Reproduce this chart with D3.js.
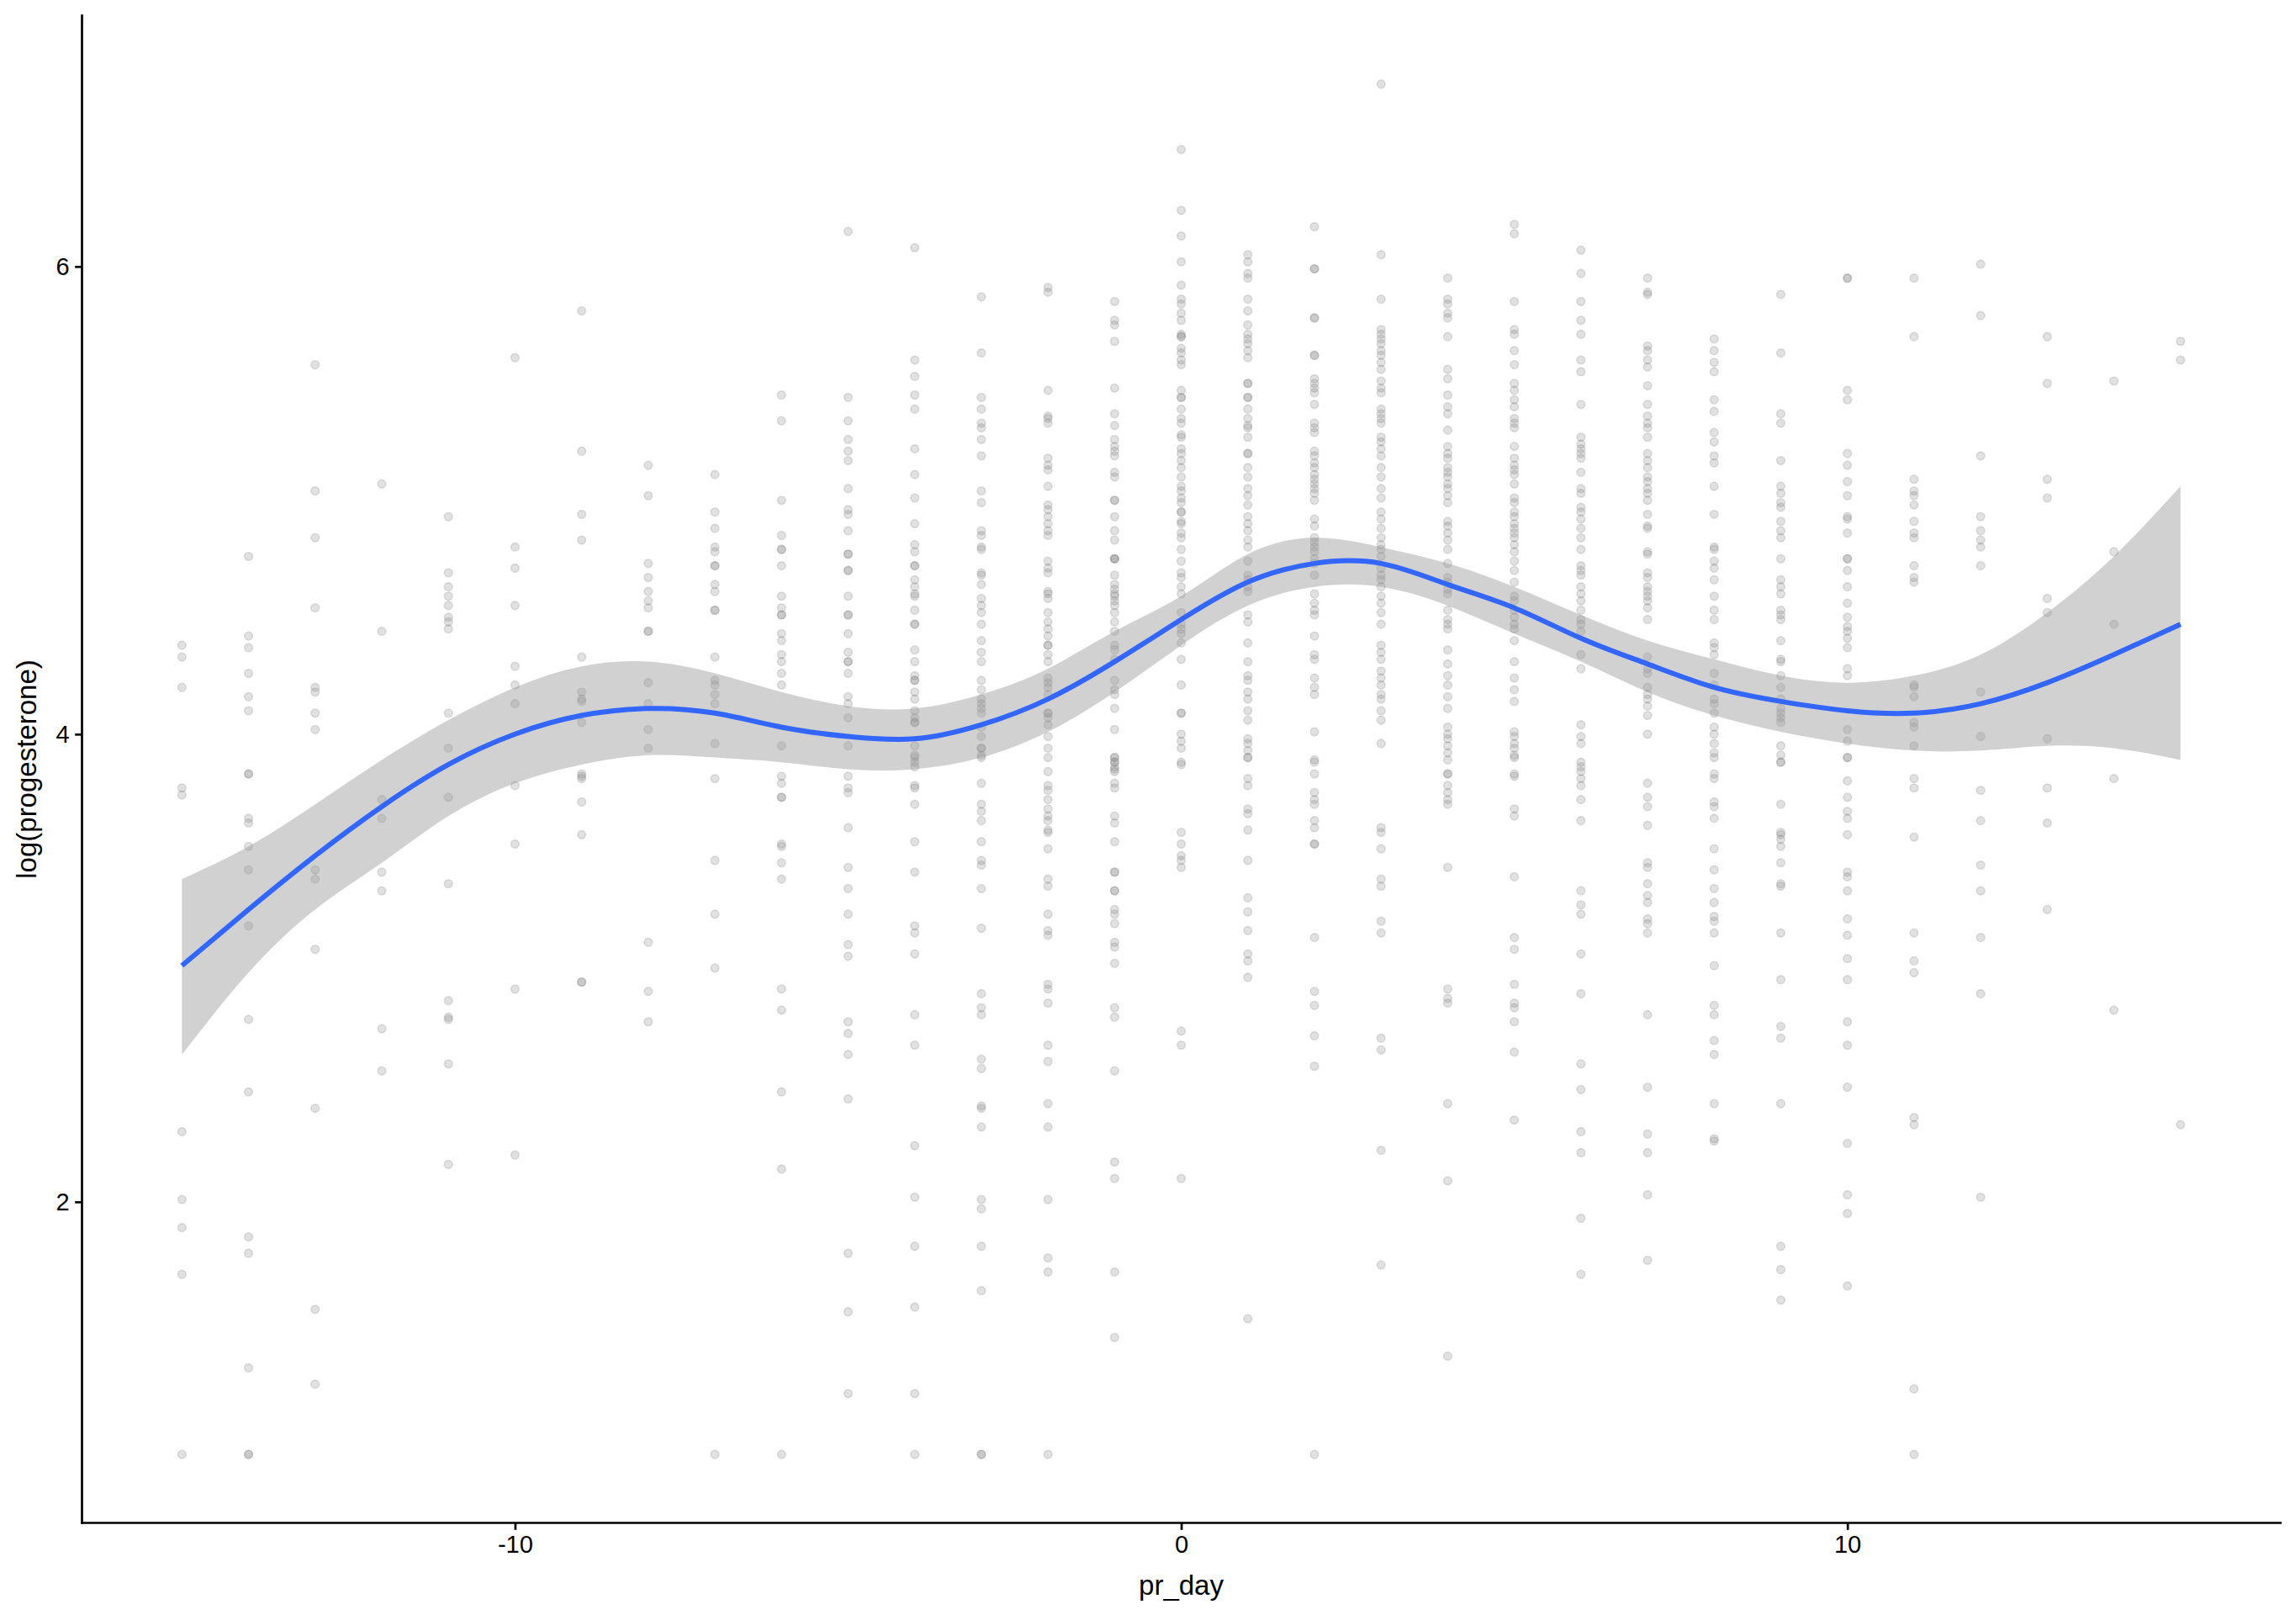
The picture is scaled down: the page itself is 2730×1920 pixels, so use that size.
<!DOCTYPE html>
<html>
<head>
<meta charset="utf-8">
<script src="https://cdn.jsdelivr.net/npm/d3@7"></script>
<style>
  html, body { margin: 0; padding: 0; background: #ffffff; }
  svg { display: block; }
</style>
</head>
<body>
<svg id="chart" width="2730" height="1920"></svg>
<script>
// ---------- data: log(progesterone) values per pr_day ----------
const d_m15 = [4.38,4.33,4.20,3.77,3.74,2.30,2.01,1.89,1.69,0.92];
const d_m14 = [4.76,4.42,4.37,4.26,4.16,4.10,3.83,3.83,3.64,3.62,3.52,3.42,3.18,2.78,2.47,1.85,1.78,1.29,0.92,0.92];
const d_m13 = [5.58,5.04,4.84,4.54,4.20,4.18,4.09,4.02,3.42,3.38,3.08,2.40,1.54,1.22];
const d_m12 = [5.07,4.44,3.72,3.64,3.41,3.33,2.74,2.56];
const d_m11 = [4.93,4.69,4.63,4.59,4.55,4.50,4.48,4.45,4.09,3.94,3.73,3.36,2.86,2.79,2.78,2.59,2.16];
const d_m10 = [5.61,4.80,4.71,4.55,4.29,4.21,4.13,3.78,3.53,2.91,2.20];
const d_m9  = [5.81,5.21,4.94,4.83,4.33,4.18,4.15,4.14,4.05,3.83,3.82,3.81,3.71,3.57,2.94,2.94];
const d_m8  = [5.15,5.02,4.73,4.67,4.61,4.57,4.54,4.44,4.44,4.22,4.13,4.02,3.94,3.11,2.90,2.77];
const d_m7  = [5.11,4.95,4.88,4.80,4.78,4.72,4.72,4.64,4.61,4.53,4.53,4.33,4.23,4.21,4.17,4.13,3.96,3.81,3.46,3.23,3.00,0.92];
const d_m6  = [5.45,5.34,5.00,4.85,4.79,4.79,4.72,4.59,4.54,4.51,4.51,4.43,4.40,4.34,4.31,4.26,4.21,3.95,3.82,3.79,3.73,3.73,3.53,3.52,3.45,3.38,2.91,2.82,2.47,2.14,0.92];
const d_m5  = [6.15,5.44,5.34,5.26,5.21,5.17,5.05,4.96,4.94,4.87,4.77,4.77,4.70,4.70,4.59,4.51,4.51,4.43,4.35,4.31,4.31,4.26,4.16,4.13,4.07,3.95,3.82,3.77,3.75,3.60,3.43,3.34,3.23,3.10,3.05,2.77,2.72,2.63,2.44,1.78,1.53,1.18];
const d_m4  = [6.08,5.60,5.53,5.45,5.39,5.22,5.11,5.01,4.90,4.81,4.78,4.72,4.72,4.66,4.63,4.60,4.59,4.53,4.47,4.47,4.36,4.31,4.25,4.23,4.23,4.18,4.15,4.10,4.07,4.05,4.05,3.95,3.91,3.90,3.88,3.86,3.78,3.77,3.70,3.54,3.41,3.18,3.15,3.06,2.80,2.67,2.24,2.02,1.81,1.55,1.18,0.92];
const d_m3  = [5.87,5.63,5.44,5.39,5.33,5.31,5.26,5.19,5.04,4.99,4.87,4.85,4.80,4.79,4.69,4.68,4.64,4.58,4.55,4.52,4.47,4.40,4.35,4.31,4.23,4.19,4.15,4.13,4.11,4.09,4.03,3.99,3.94,3.94,3.91,3.90,3.79,3.70,3.67,3.63,3.54,3.46,3.44,3.34,3.17,2.89,2.83,2.80,2.61,2.57,2.41,2.40,2.32,2.01,1.97,1.81,1.62,0.92,0.92];
const d_m2  = [5.91,5.89,5.47,5.36,5.35,5.33,5.18,5.15,5.13,5.06,4.98,4.96,4.93,4.90,4.87,4.85,4.74,4.71,4.69,4.61,4.60,4.58,4.52,4.48,4.45,4.42,4.38,4.38,4.34,4.31,4.24,4.22,4.20,4.17,4.09,4.09,4.07,4.04,3.99,3.94,3.90,3.84,3.78,3.76,3.72,3.68,3.65,3.63,3.59,3.58,3.51,3.38,3.35,3.23,3.16,3.14,2.93,2.91,2.85,2.67,2.60,2.42,2.32,2.01,1.76,1.70,0.92];
const d_m1  = [5.85,5.77,5.75,5.68,5.48,5.37,5.32,5.26,5.23,5.21,5.19,5.12,5.10,5.00,5.00,4.93,4.87,4.83,4.75,4.75,4.75,4.68,4.64,4.62,4.60,4.59,4.57,4.55,4.52,4.48,4.44,4.38,4.36,4.32,4.23,4.19,4.17,4.11,4.02,3.90,3.88,3.85,3.90,3.88,3.86,3.84,3.79,3.77,3.65,3.62,3.54,3.41,3.41,3.33,3.33,3.25,3.23,3.19,3.11,3.09,3.02,2.83,2.79,2.56,2.17,2.10,1.70,1.42];
const d_0   = [6.50,6.24,6.13,6.02,5.92,5.86,5.84,5.80,5.77,5.71,5.70,5.70,5.65,5.63,5.60,5.58,5.47,5.44,5.44,5.39,5.35,5.33,5.28,5.27,5.22,5.20,5.17,5.14,5.10,5.06,5.04,5.01,4.99,4.95,4.95,4.91,4.90,4.86,4.84,4.79,4.74,4.69,4.67,4.63,4.60,4.52,4.47,4.45,4.43,4.39,4.32,4.21,4.09,4.09,4.00,3.97,3.94,3.88,3.87,3.58,3.53,3.48,3.46,3.43,2.73,2.67,2.10];
const d_1   = [6.05,6.02,5.97,5.95,5.86,5.81,5.75,5.71,5.69,5.67,5.64,5.61,5.50,5.50,5.44,5.44,5.39,5.35,5.32,5.31,5.27,5.20,5.20,5.14,5.10,5.05,5.02,4.98,4.93,4.90,4.87,4.83,4.80,4.74,4.68,4.66,4.63,4.61,4.51,4.48,4.39,4.31,4.25,4.23,4.18,4.15,4.10,4.06,3.98,3.96,3.93,3.90,3.90,3.81,3.78,3.68,3.66,3.59,3.46,3.30,3.24,3.16,3.06,3.03,2.96,1.50];
const d_2   = [6.17,5.99,5.99,5.78,5.78,5.62,5.62,5.52,5.50,5.48,5.46,5.41,5.33,5.31,5.29,5.21,5.19,5.16,5.14,5.11,5.09,5.07,5.05,5.03,5.00,4.92,4.89,4.84,4.82,4.80,4.78,4.75,4.73,4.68,4.60,4.56,4.53,4.51,4.42,4.34,4.32,4.24,4.20,4.17,4.01,3.89,3.88,3.83,3.75,3.72,3.70,3.63,3.60,3.53,3.53,3.13,2.90,2.84,2.71,2.58,0.92];
const d_3   = [6.78,6.05,5.86,5.73,5.71,5.69,5.67,5.64,5.62,5.59,5.56,5.51,5.48,5.46,5.39,5.37,5.35,5.33,5.27,5.25,5.22,5.19,5.14,5.10,5.05,5.01,4.95,4.92,4.88,4.84,4.81,4.79,4.76,4.71,4.68,4.66,4.63,4.59,4.56,4.52,4.47,4.38,4.35,4.32,4.27,4.24,4.21,4.17,4.15,4.10,4.06,3.96,3.60,3.58,3.51,3.38,3.35,3.20,3.15,2.70,2.65,2.22,1.73];
const d_4   = [5.95,5.86,5.84,5.80,5.78,5.70,5.56,5.52,5.45,5.40,5.37,5.30,5.23,5.20,5.18,5.14,5.12,5.10,5.07,5.05,5.02,4.99,4.91,4.89,4.86,4.83,4.79,4.73,4.67,4.65,4.62,4.60,4.53,4.49,4.47,4.45,4.36,4.30,4.25,4.21,4.16,4.11,4.03,4.00,3.98,3.95,3.92,3.89,3.83,3.83,3.78,3.75,3.72,3.70,3.43,2.91,2.87,2.85,2.42,2.09,1.34];
const d_5   = [6.18,6.14,5.85,5.73,5.71,5.64,5.58,5.50,5.47,5.43,5.40,5.35,5.33,5.31,5.23,5.18,5.15,5.13,5.11,5.07,5.01,4.99,4.95,4.93,4.90,4.88,4.86,4.84,4.81,4.78,4.74,4.70,4.65,4.59,4.57,4.53,4.50,4.47,4.45,4.40,4.31,4.24,4.19,4.14,4.01,3.99,3.96,3.94,3.91,3.90,3.83,3.82,3.68,3.65,3.39,3.13,3.08,2.93,2.85,2.83,2.77,2.64,2.35];
const d_6   = [6.07,5.97,5.85,5.77,5.71,5.60,5.55,5.41,5.27,5.24,5.22,5.20,5.18,5.12,5.05,5.03,4.97,4.95,4.92,4.88,4.84,4.79,4.72,4.70,4.68,4.63,4.60,4.57,4.53,4.49,4.47,4.44,4.34,4.28,4.04,3.99,3.96,3.88,3.86,3.84,3.81,3.78,3.72,3.63,3.33,3.27,3.23,3.06,2.89,2.59,2.48,2.30,2.21,1.93,1.69];
const d_7   = [5.95,5.89,5.88,5.66,5.64,5.60,5.57,5.49,5.41,5.36,5.33,5.31,5.27,5.20,5.17,5.14,5.10,5.08,5.05,5.03,5.00,4.94,4.89,4.88,4.78,4.77,4.69,4.67,4.63,4.61,4.59,4.57,4.54,4.49,4.33,4.28,4.26,4.20,4.17,4.15,4.12,4.08,4.00,3.79,3.73,3.69,3.61,3.45,3.43,3.36,3.31,3.28,3.21,3.19,3.15,2.80,2.49,2.29,2.21,2.03,1.75];
const d_8   = [5.69,5.64,5.59,5.55,5.43,5.38,5.29,5.25,5.19,5.16,5.06,4.94,4.80,4.79,4.74,4.71,4.66,4.59,4.53,4.49,4.39,4.37,4.34,4.26,4.21,4.15,4.13,4.09,4.03,4.00,3.96,3.92,3.90,3.83,3.81,3.71,3.69,3.64,3.51,3.42,3.34,3.28,3.22,3.20,3.15,3.01,2.84,2.80,2.69,2.63,2.42,2.27,2.26];
const d_9   = [5.88,5.63,5.37,5.33,5.17,5.06,5.03,4.99,4.97,4.91,4.87,4.84,4.75,4.66,4.63,4.60,4.53,4.51,4.49,4.40,4.32,4.31,4.25,4.20,4.15,4.11,4.09,4.07,4.05,3.95,3.91,3.88,3.88,3.70,3.58,3.57,3.55,3.52,3.45,3.36,3.35,3.15,2.95,2.75,2.70,2.42,1.81,1.71,1.58];
const d_10  = [5.95,5.95,5.47,5.43,5.20,5.15,5.08,5.02,4.93,4.92,4.86,4.75,4.75,4.70,4.63,4.56,4.50,4.46,4.44,4.41,4.37,4.28,4.25,4.02,3.97,3.90,3.90,3.80,3.73,3.67,3.64,3.57,3.41,3.39,3.33,3.21,3.14,3.04,2.95,2.77,2.67,2.49,2.25,2.03,1.95,1.64];
const d_11  = [5.95,5.70,5.09,5.04,5.02,4.98,4.91,4.86,4.84,4.72,4.67,4.65,4.21,4.20,4.16,4.05,4.03,3.95,3.81,3.77,3.56,3.15,3.03,2.98,2.36,2.33,1.20,0.92];
const d_12  = [6.01,5.79,5.19,4.93,4.87,4.83,4.80,4.72,4.18,3.99,3.76,3.63,3.44,3.33,3.13,2.89,2.02];
const d_13  = [5.70,5.50,5.09,5.01,4.58,4.52,3.98,3.77,3.62,3.25];
const d_14  = [5.51,4.78,4.47,3.81,2.82];
const d_15  = [5.68,5.60,2.33];

const dayValues = d3.range(-15, 16);
const dayColumns = [d_m15,d_m14,d_m13,d_m12,d_m11,d_m10,d_m9,d_m8,d_m7,d_m6,d_m5,d_m4,d_m3,d_m2,d_m1,
                    d_0,d_1,d_2,d_3,d_4,d_5,d_6,d_7,d_8,d_9,d_10,d_11,d_12,d_13,d_14,d_15];

// loess smooth (fit, lower and upper confidence limits) at each day
const smoothFit   = [3.01,3.25,3.48,3.69,3.87,4.00,4.08,4.11,4.09,4.03,3.99,3.98,4.04,4.15,4.31,
                     4.49,4.65,4.73,4.73,4.64,4.54,4.41,4.30,4.20,4.14,4.10,4.09,4.13,4.22,4.34,4.47];
const smoothUpper = [3.38,3.52,3.70,3.89,4.06,4.20,4.29,4.31,4.26,4.18,4.12,4.11,4.17,4.28,4.44,
                     4.59,4.77,4.84,4.80,4.73,4.63,4.51,4.40,4.32,4.25,4.22,4.25,4.34,4.52,4.76,5.06];
const smoothLower = [2.63,2.98,3.25,3.45,3.65,3.79,3.87,3.91,3.90,3.88,3.85,3.85,3.90,4.01,4.18,
                     4.38,4.55,4.63,4.63,4.55,4.43,4.31,4.18,4.08,4.01,3.96,3.93,3.93,3.95,3.94,3.89];

const xTicks = [-10, 0, 10];
const yTicks = [2, 4, 6];
const xTitle = "pr_day";
const yTitle = "log(progesterone)";

// ---------- build ----------
const points = [];
dayColumns.forEach((vals, i) => vals.forEach(v => points.push({ day: dayValues[i], value: v })));
const smooth = dayValues.map((d, i) => ({ day: d, fit: smoothFit[i], lo: smoothLower[i], hi: smoothUpper[i] }));

const W = 2730, H = 1920;
const margin = { left: 97.5, right: 18.5, top: 18.5, bottom: 109.5 };

const allVals = points.map(p => p.value);
const yMin = d3.min(allVals), yMax = d3.max(allVals);
const yPad = (yMax - yMin) * 0.05;
const xPad = 30 * 0.05;

const x = d3.scaleLinear().domain([-15 - xPad, 15 + xPad]).range([margin.left, W - margin.right]);
const y = d3.scaleLinear().domain([yMin - yPad, yMax + yPad]).range([H - margin.bottom, margin.top]);

const svg = d3.select("#chart");
const font = "'Liberation Sans', Arial, Helvetica, sans-serif";

// points
svg.append("g")
  .selectAll("circle")
  .data(points)
  .join("circle")
  .attr("cx", d => x(d.day))
  .attr("cy", d => y(d.value))
  .attr("r", 4.8)
  .attr("fill", "rgba(128,128,128,0.24)")
  .attr("stroke", "rgba(128,128,128,0.24)")
  .attr("stroke-width", 1.6);

// ribbon
const area = d3.area()
  .x(d => x(d.day))
  .y0(d => y(d.lo))
  .y1(d => y(d.hi))
  .curve(d3.curveNatural);
svg.append("path")
  .datum(smooth)
  .attr("d", area)
  .attr("fill", "#999999")
  .attr("fill-opacity", 0.45);

// fit line
const line = d3.line()
  .x(d => x(d.day))
  .y(d => y(d.fit))
  .curve(d3.curveNatural);
svg.append("path")
  .datum(smooth)
  .attr("d", line)
  .attr("fill", "none")
  .attr("stroke", "#3366FF")
  .attr("stroke-width", 6);

// axes
const tickLen = 8.3, tickPad = 6.6, fontSize = 29, axisW = 2.7;

const xAxis = svg.append("g")
  .attr("transform", `translate(0,${H - margin.bottom})`)
  .call(d3.axisBottom(x).tickValues(xTicks).tickFormat(d => String(d))
        .tickSize(tickLen).tickSizeOuter(0).tickPadding(tickPad));
const yAxis = svg.append("g")
  .attr("transform", `translate(${margin.left},0)`)
  .call(d3.axisLeft(y).tickValues(yTicks).tickFormat(d => String(d))
        .tickSize(tickLen).tickSizeOuter(0).tickPadding(tickPad));

[xAxis, yAxis].forEach(g => {
  g.select(".domain").attr("stroke", "#000").attr("stroke-width", axisW).attr("stroke-linecap", "square");
  g.selectAll(".tick line").attr("stroke", "#000").attr("stroke-width", axisW);
  g.selectAll(".tick text").attr("fill", "#000").style("font-family", font).style("font-size", fontSize + "px");
});
// extend axis lines to full panel like ggplot
xAxis.select(".domain").attr("d", `M${margin.left},0H${W - margin.right}`);
yAxis.select(".domain").attr("d", `M0,${margin.top}V${H - margin.bottom}`);

// titles
svg.append("text")
  .attr("x", (margin.left + W - margin.right) / 2)
  .attr("y", 1896)
  .attr("text-anchor", "middle")
  .style("font-family", font)
  .style("font-size", "33px")
  .attr("fill", "#000")
  .text(xTitle);

svg.append("text")
  .attr("transform", `translate(43,${(margin.top + H - margin.bottom) / 2}) rotate(-90)`)
  .attr("text-anchor", "middle")
  .style("font-family", font)
  .style("font-size", "33px")
  .attr("fill", "#000")
  .text(yTitle);
</script>
</body>
</html>
